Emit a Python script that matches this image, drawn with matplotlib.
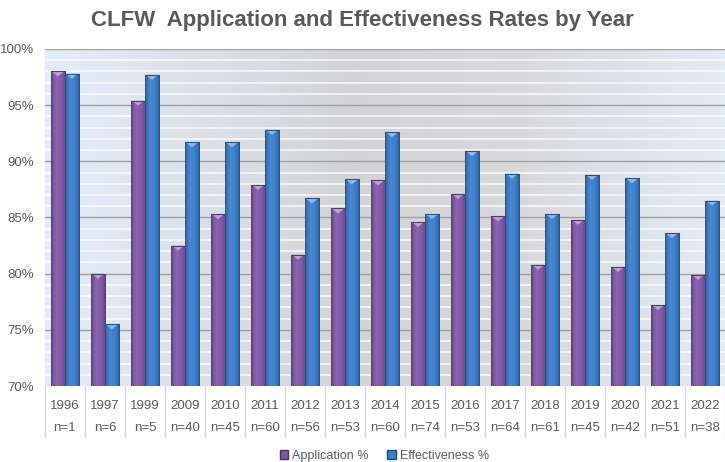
import numpy as np
import matplotlib.pyplot as plt
from matplotlib.colors import LinearSegmentedColormap, to_rgb
from matplotlib.patches import Polygon, Rectangle
import matplotlib.transforms as mtransforms

years = ['1996', '1997', '1999', '2009', '2010', '2011', '2012', '2013', '2014',
         '2015', '2016', '2017', '2018', '2019', '2020', '2021', '2022']
n_counts = [1, 6, 5, 40, 45, 60, 56, 53, 60, 74, 53, 64, 61, 45, 42, 51, 38]
application = [98.0, 80.0, 95.4, 82.5, 85.3, 87.9, 81.7, 85.8, 88.3,
               84.6, 87.1, 85.1, 80.8, 84.8, 80.6, 77.2, 79.9]
effectiveness = [97.8, 75.5, 97.7, 91.7, 91.7, 92.8, 86.7, 88.4, 92.6,
                 85.3, 90.9, 88.9, 85.3, 88.8, 88.5, 83.6, 86.5]

plt.rcParams['font.family'] = ['Liberation Sans', 'DejaVu Sans']

purple = '#8158a8'
blue = '#3a7dcc'
text_grey = '#595959'


def mix(c, other, t):
    c = np.array(to_rgb(c))
    return tuple(c * (1 - t) + np.array(other) * t)


def bar_cmap(c):
    # dark edge -> highlight -> base -> dark edge, gives the bevelled look
    return LinearSegmentedColormap.from_list('b', [
        (0.0, mix(c, (0, 0, 0), 0.4)),
        (0.08, mix(c, (0, 0, 0), 0.12)),
        (0.35, mix(c, (1, 1, 1), 0.08)),
        (0.75, c),
        (0.92, mix(c, (0, 0, 0), 0.18)),
        (1.0, mix(c, (0, 0, 0), 0.4)),
    ])


fig = plt.figure(figsize=(7.25, 4.62), dpi=100)
ax = fig.add_axes([0.062, 0.1645, 0.938, 0.7295])
x = np.arange(len(years))
ax.set_xlim(-0.5, len(years) - 0.5)
ax.set_ylim(70, 100)

# plot background gradient
bg = LinearSegmentedColormap.from_list('bg', [
    (0.0, (0.89, 0.93, 0.98)),
    (0.45, (0.83, 0.83, 0.84)),
    (0.7, (0.85, 0.85, 0.86)),
    (1.0, (0.89, 0.92, 0.96)),
])
ax.imshow(np.linspace(0, 1, 256).reshape(1, -1), cmap=bg, aspect='auto',
          extent=[0, 1, 0, 1], transform=ax.transAxes, zorder=0)

# grid: white minor every 1%, grey major every 5%
for v in range(71, 100):
    if v % 5:
        ax.axhline(v, color='white', lw=1.2, alpha=0.8, zorder=1)
for v in range(75, 101, 5):
    ax.axhline(v, color='#a0a0a0', lw=1.0, zorder=1)

width = 0.35
grad = np.linspace(0, 1, 64).reshape(1, -1)
for series, color, off in [(application, purple, -width / 2),
                           (effectiveness, blue, width / 2)]:
    bars = ax.bar(x + off, np.array(series) - 70, width=width, bottom=70,
                  color=color, edgecolor=mix(color, (0, 0, 0), 0.35),
                  linewidth=0.5, zorder=2)
    cm = bar_cmap(color)
    for b, v in zip(bars, series):
        x0 = b.get_x()
        x1 = x0 + b.get_width()
        im = ax.imshow(grad, cmap=cm, aspect='auto',
                       extent=[x0, x1, 70, v], zorder=3)
        im.set_clip_path(b)
        cap = Polygon([[x0 + 0.02, v], [x1 - 0.02, v],
                       [(x0 + x1) / 2, v - 0.45]], closed=True,
                      facecolor=mix(color, (1, 1, 1), 0.45),
                      edgecolor='none', zorder=4)
        ax.add_patch(cap)
        ax.plot([x0, x1], [v, v], color=mix(color, (0, 0, 0), 0.35),
                lw=0.8, zorder=5)

ax.set_yticks(range(70, 101, 5))
ax.set_yticklabels([f'{v}%' for v in range(70, 101, 5)])
ax.tick_params(axis='y', length=0, labelsize=9.5, labelcolor=text_grey, pad=8)
ax.set_xticks([])
for s in ax.spines.values():
    s.set_visible(False)

# category table under the axis
trans = mtransforms.blended_transform_factory(ax.transData, ax.transAxes)
for b in np.arange(-0.5, len(years), 1.0):
    ax.plot([b, b], [0, -0.152], color='#d9d9d9', lw=1.0,
            transform=trans, clip_on=False)
for i, (yr, n) in enumerate(zip(years, n_counts)):
    ax.text(i, -0.058, yr, transform=trans, ha='center', va='center',
            fontsize=9.5, color=text_grey)
    ax.text(i, -0.126, f'n={n}', transform=trans, ha='center', va='center',
            fontsize=9.5, color=text_grey)

fig.text(0.5, 0.955, 'CLFW  Application and Effectiveness Rates by Year',
         ha='center', va='center', fontsize=16, fontweight='bold',
         color=text_grey)

handles = [Rectangle((0, 0), 1, 1, facecolor=purple, edgecolor='#4a2f66'),
           Rectangle((0, 0), 1, 1, facecolor=blue, edgecolor='#1f4a7f')]
fig.legend(handles, ['Application %', 'Effectiveness %'], loc='center',
           bbox_to_anchor=(0.53, 0.013), ncol=2, frameon=False, fontsize=9,
           handlelength=0.7, handleheight=0.7, handletextpad=0.3,
           columnspacing=1.5, labelcolor=text_grey)

fig.savefig('out.png', dpi=100)
